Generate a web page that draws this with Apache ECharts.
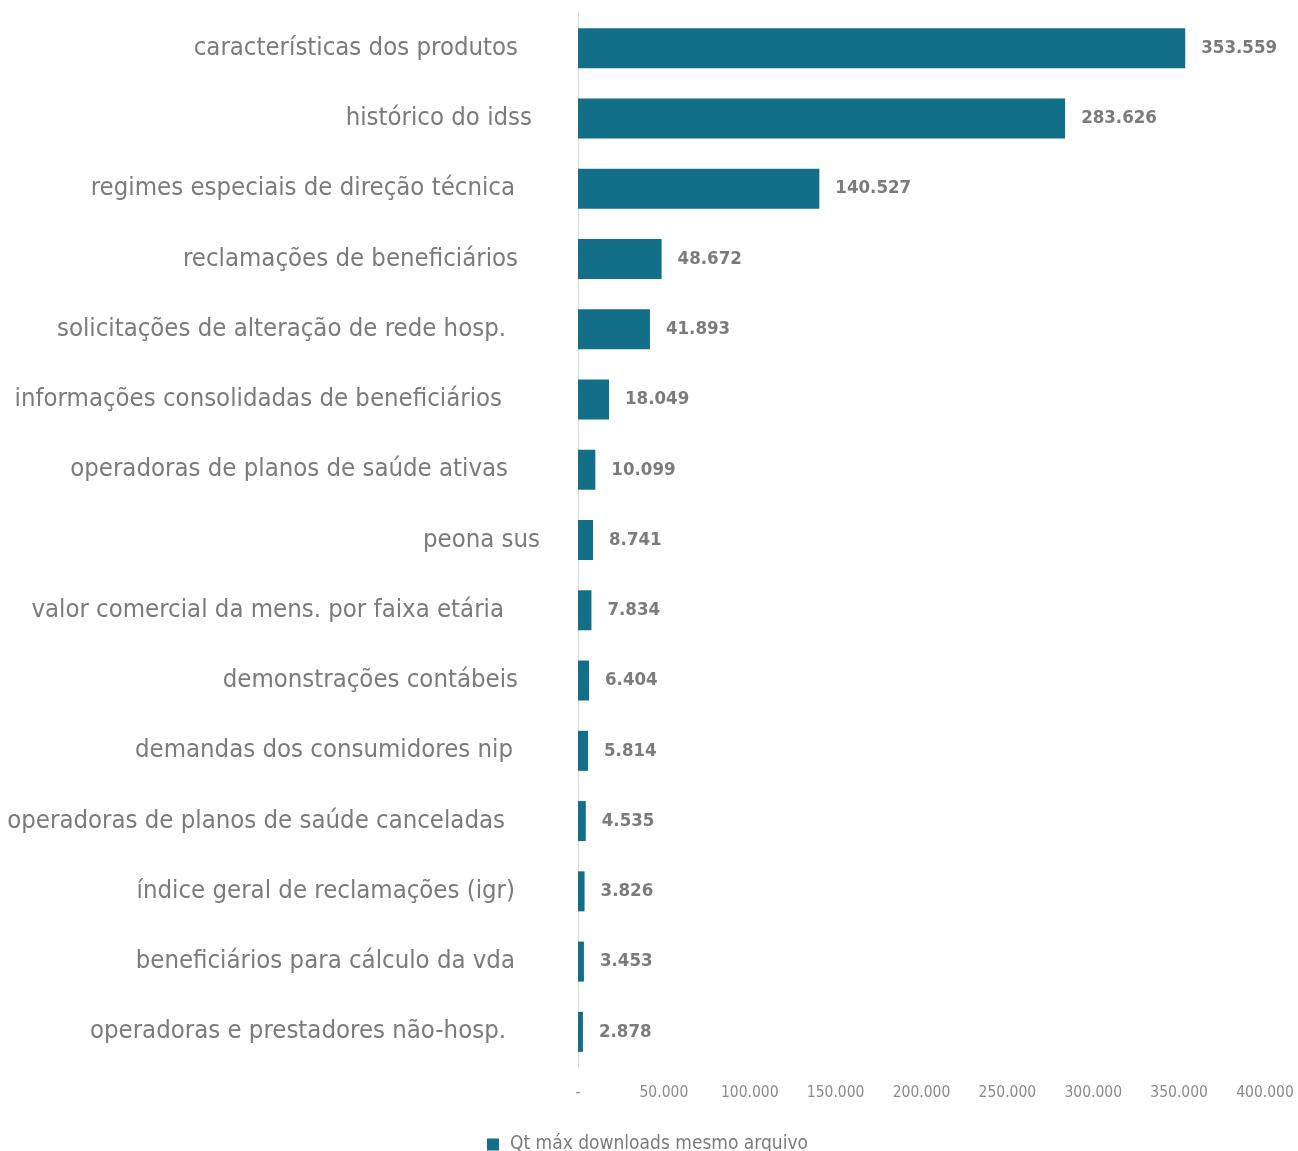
<!DOCTYPE html>
<html><head><meta charset="utf-8">
<script src="https://cdn.jsdelivr.net/npm/echarts@6/dist/echarts.min.js"></script>
<style>html,body{margin:0;padding:0;background:#fff}#c{width:1298px;height:1151px}</style>
</head><body><div id="c"></div>
<script>
const categories = [
  'características dos produtos',
  'histórico do idss',
  'regimes especiais de direção técnica',
  'reclamações de beneficiários',
  'solicitações de alteração de rede hosp.',
  'informações consolidadas de beneficiários',
  'operadoras de planos de saúde ativas',
  'peona sus',
  'valor comercial da mens. por faixa etária',
  'demonstrações contábeis',
  'demandas dos consumidores nip',
  'operadoras de planos de saúde canceladas',
  'índice geral de reclamações (igr)',
  'beneficiários para cálculo da vda',
  'operadoras e prestadores não-hosp.'
];
const values = [353559, 283626, 140527, 48672, 41893, 18049, 10099, 8741, 7834, 6404, 5814, 4535, 3826, 3453, 2878];
const seriesName = 'Qt máx downloads mesmo arquivo';
const tickValues = [0, 50000, 100000, 150000, 200000, 250000, 300000, 350000, 400000];
// layout: extra right padding of each category label (px), mimicking the original's trailing spaces
const labelPad = [22, 8, 25, 22, 34, 38, 32, 0, 36, 22, 27, 35, 25, 25, 34];

const FONT = "'Liberation Sans Narrow','DejaVu Sans Condensed',sans-serif";
const fmt = v => v === 0 ? '-' : String(v).replace(/\B(?=(\d{3})+(?!\d))/g, '.');

const rich = { t: { fontFamily: FONT, fontSize: 25.5, color: '#7b7b7b' } };
labelPad.forEach((p, i) => { rich['p' + i] = { width: p, fontSize: 25.5, fontFamily: FONT }; });

const chart = echarts.init(document.getElementById('c'), null, { renderer: 'canvas' });
chart.setOption({
  animation: false,
  textStyle: { fontFamily: FONT },
  grid: { left: 578, right: 33, top: 13, bottom: 84, containLabel: false, outerBoundsMode: 'none' },
  legend: {
    top: 1130, left: 482,
    itemWidth: 12, itemHeight: 12, itemGap: 12,
    icon: 'rect',
    textStyle: { fontFamily: FONT, fontSize: 19, color: '#7b7b7b', padding: [0, 0, 0, 6] },
    data: [seriesName]
  },
  xAxis: {
    type: 'value', min: tickValues[0], max: tickValues[tickValues.length - 1], interval: tickValues[1] - tickValues[0],
    axisLine: { show: false }, axisTick: { show: false }, splitLine: { show: false },
    axisLabel: { formatter: fmt, fontFamily: FONT, fontSize: 15.5, color: '#8a8a8a', margin: 18 }
  },
  yAxis: {
    type: 'category', inverse: true, data: categories,
    axisLine: { show: true, lineStyle: { color: '#d9d9d9', width: 1 } },
    axisTick: { show: false },
    axisLabel: {
      margin: 38,
      formatter: (v, i) => '{t|' + v + '}{p' + i + '| }',
      rich: rich
    }
  },
  series: [{
    name: seriesName, type: 'bar', data: values, barWidth: 40,
    itemStyle: { color: '#136f87' },
    label: {
      show: true, position: 'right', distance: 16,
      formatter: p => fmt(p.value),
      fontFamily: FONT, fontSize: 18.5, fontWeight: 'bold', color: '#7b7b7b'
    }
  }]
});
</script></body></html>
